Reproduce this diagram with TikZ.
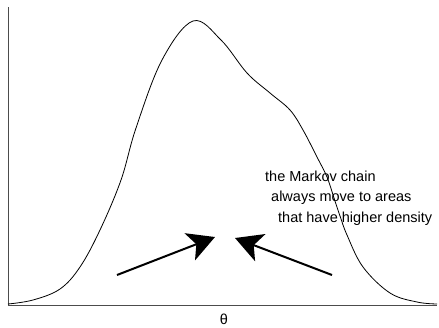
\documentclass[tikz,border=0pt]{standalone}
\usepackage{fontspec}
\setmainfont{Liberation Sans}
\usetikzlibrary{arrows.meta}
\begin{document}
\begin{tikzpicture}[x=1pt,y=-1pt,
  axisline/.style={draw=black!70,line width=0.9pt},
  density/.style={draw=black,line width=0.8pt},
  bigarrow/.style={draw=black,line width=2pt,-{Stealth[length=27pt,width=29pt,inset=7pt]}},
  note/.style={inner sep=0pt,anchor=base west,font=\fontsize{14.5}{17}\selectfont}]
\useasboundingbox (0,0) rectangle (439,327);
% axes
\coordinate (top) at (8,7);
\coordinate (origin) at (8,305);
\coordinate (right) at (437,305);
\draw[axisline] (top) -- (origin) -- (right);
% density curve
\draw[density] plot[smooth,tension=0.6] coordinates {
 (8,304) (33,300) (60,289) (80,267) (100,230) (121,180) (136,128) (162,60)
 (193,21) (221,40) (247,73) (270,93) (290,110) (303,130) (317,157) (327,177)
 (334,198) (340,216) (347,235) (363,267) (390,293) (417,302) (437,304)};
% arrows
\coordinate (lt) at (117,275);
\coordinate (lh) at (215,237);
\coordinate (rt) at (332,275);
\coordinate (rh) at (235,238);
\draw[bigarrow] (lt) -- (lh);
\draw[bigarrow] (rt) -- (rh);
% text
\node[note] (l1) at (265,181) {the Markov chain};
\node[note] (l2) at (271,201.5) {always move to areas};
\node[note] (l3) at (278,222.5) {that have higher density};
\node[note,anchor=base] (theta) at (224,324) {θ};
\end{tikzpicture}
\end{document}
